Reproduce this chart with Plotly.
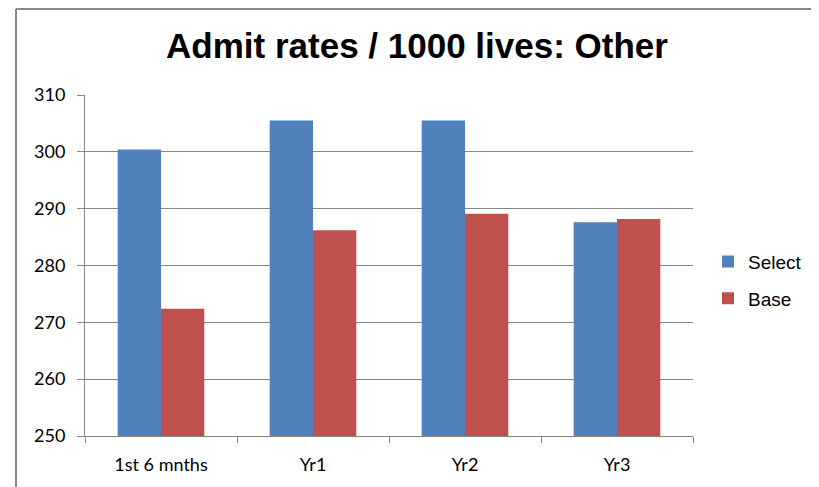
import plotly.graph_objects as go

categories = ["1st 6 mnths", "Yr1", "Yr2", "Yr3"]
select_vals = [300.4, 305.5, 305.5, 287.6]
base_vals = [272.4, 286.2, 289.1, 288.2]
y_ticks = [250, 260, 270, 280, 290, 300, 310]

fig = go.Figure()
fig.add_trace(go.Bar(name="Select", x=categories, y=select_vals, legendgroup="s",
                     marker=dict(color="#4F81BD", line=dict(width=0))))
fig.add_trace(go.Bar(name="Base", x=categories, y=base_vals, legendgroup="b",
                     marker=dict(color="#C0504D", line=dict(width=0))))

L, T, W, H = 77, 87, 608, 341
fig.update_layout(
    width=819, height=487,
    paper_bgcolor="white", plot_bgcolor="white",
    margin=dict(l=L, r=819 - L - W, t=T, b=487 - T - H),
    barmode="group", bargap=0.43, bargroupgap=0,
    title=dict(text="<b>Admit rates / 1000 lives: Other</b>",
               x=(417 - 8) / 819, xanchor="center", y=1 - 38 / 487, yanchor="middle",
               font=dict(family="Liberation Sans", size=35, color="black")),
    legend=dict(x=(700 - L) / W, y=0.457, xanchor="left", yanchor="middle",
                font=dict(family="Liberation Sans", size=19, color="black"),
                itemwidth=30, tracegroupgap=9, traceorder="grouped",
                bgcolor="rgba(0,0,0,0)"),
    showlegend=True,
)
fig.update_xaxes(
    showline=True, linecolor="#868686", linewidth=1,
    ticks="outside", tickson="boundaries", ticklen=6, tickcolor="#868686",
    tickfont=dict(family="Lato", size=18, color="black"),
    ticklabelstandoff=12,
    showgrid=False,
)
fig.update_yaxes(
    range=[250, 310], tickvals=y_ticks,
    showline=True, linecolor="#868686", linewidth=1,
    ticks="outside", ticklen=7, tickcolor="#868686",
    ticklabelstandoff=8,
    showgrid=True, gridcolor="#868686", gridwidth=1,
    tickfont=dict(family="Lato", size=18, color="black"),
    zeroline=False,
)
# outer chart frame
fx0 = (8 - L) / W
fx1 = (809 - L) / W
fy1 = (T + H - 1) / H
fig.add_shape(type="line", xref="paper", yref="paper", x0=fx0, x1=fx1, y0=fy1, y1=fy1,
              line=dict(color="#888888", width=2), layer="below")
fig.add_shape(type="line", xref="paper", yref="paper", x0=fx0, x1=fx0, y0=fy1, y1=-0.3,
              line=dict(color="#888888", width=2), layer="below")
fig.add_shape(type="line", xref="paper", yref="paper", x0=fx1, x1=fx1, y0=fy1, y1=-0.3,
              line=dict(color="#dddddd", width=1), layer="below")

fig.write_html("out.html")
